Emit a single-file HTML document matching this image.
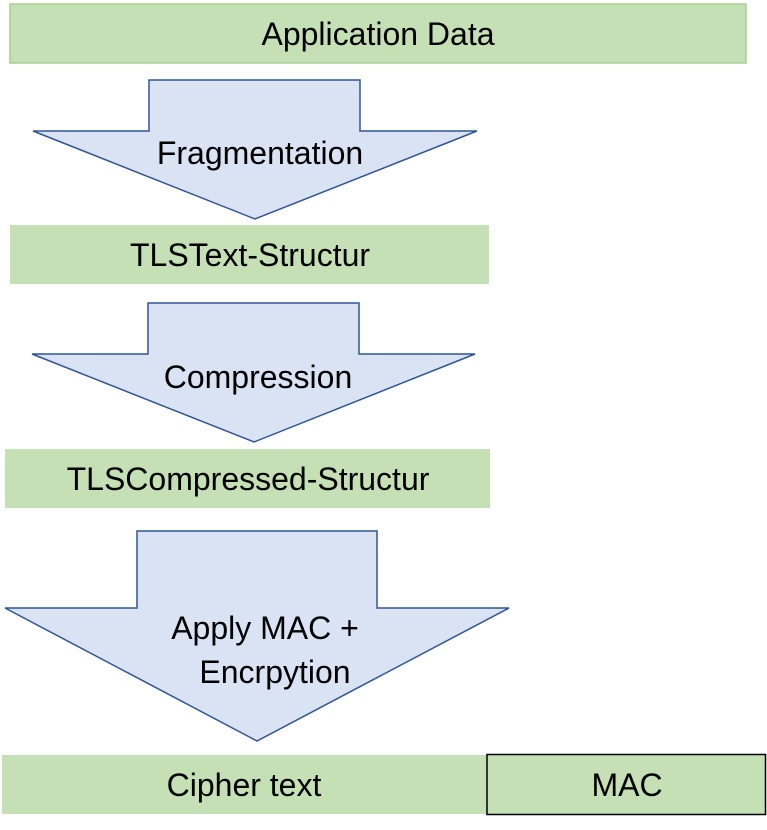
<!DOCTYPE html>
<html><head><meta charset="utf-8"><style>
html,body{margin:0;padding:0;background:#fff;}
svg{display:block;}
text{font-family:"Liberation Sans",sans-serif;font-size:32px;fill:#000;text-anchor:middle;}
</style></head><body>
<svg width="767" height="830" viewBox="0 0 767 830" xmlns="http://www.w3.org/2000/svg">
<rect x="10" y="4" width="736" height="59" fill="#c5e0b4" stroke="#a9d18e" stroke-width="1.5"/>
<text x="378" y="45">Application Data</text>

<polygon points="149,80 360,80 360,131 477,131 255,219 33,131 149,131" fill="#dae3f3" stroke="#2f5597" stroke-width="1.5"/>
<text x="260" y="164">Fragmentation</text>

<rect x="10" y="225" width="479" height="59" fill="#c5e0b4"/>
<text x="250" y="266">TLSText-Structur</text>

<polygon points="148,303 359,303 359,354 475,354 254,442 32,354 148,354" fill="#dae3f3" stroke="#2f5597" stroke-width="1.5"/>
<text x="258" y="388">Compression</text>

<rect x="5" y="449" width="485" height="59" fill="#c5e0b4"/>
<text x="248" y="490">TLSCompressed-Structur</text>

<polygon points="137,531 377,531 377,608 509,608 257,741 5,608 137,608" fill="#dae3f3" stroke="#2f5597" stroke-width="1.5"/>
<text x="265" y="639">Apply MAC +</text>
<text x="275" y="683">Encrpytion</text>

<rect x="2" y="755" width="485" height="59" fill="#c5e0b4"/>
<text x="244" y="796">Cipher text</text>
<rect x="487" y="754.5" width="278.5" height="60" fill="#c5e0b4" stroke="#000" stroke-width="1.5"/>
<text x="627" y="796">MAC</text>
</svg>
</body></html>
